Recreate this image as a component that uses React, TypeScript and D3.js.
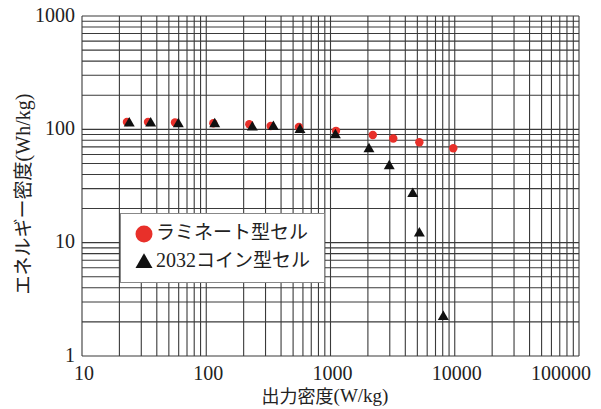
import React, { useRef, useEffect } from 'react';
import * as d3 from 'd3';

const width = 601;
const height = 409;
const margin = { left: 82, right: 22, top: 16, bottom: 53 };

// ラミネート型セル
const laminateX = [23, 34, 56, 114, 222, 330, 557, 1107, 2190, 3200, 5190, 9730];
const laminateY = [116, 116, 115, 113, 111, 107, 105, 97, 89, 83, 77, 68];
// 2032コイン型セル
const coinX = [24, 35.7, 59.6, 117, 235, 347, 568, 1095, 2040, 2970, 4590, 5190, 8090];
const coinY = [113, 113, 111, 111, 104, 105, 99, 89, 67, 47.5, 27, 12.1, 2.22];

const xTicks = [10, 100, 1000, 10000, 100000];
const yTicks = [1, 10, 100, 1000];
// each label split into [text, isLatin] runs
const legendLabels: [string, boolean][][] = [
  [['ラミネート型セル', false]],
  [['2032', true], ['コイン型セル', false]],
];
const xTitle: [string, boolean][] = [['出力密度', false], ['(W/kg)', true]];
const yTitle: [string, boolean][] = [['エネルギー密度', false], ['(Wh/kg)', true]];

const serif = "'Liberation Serif'";
const cjk = "'Noto Sans CJK JP'";
const red = '#e8302a';

export default function App() {
  const svgRef = useRef<SVGSVGElement>(null);

  useEffect(() => {
    document.body.style.margin = '0';
    const svg = d3.select(svgRef.current);
    svg.selectAll('*').remove();

    const x = d3.scaleLog().domain([10, 100000]).range([margin.left, width - margin.right]);
    const y = d3.scaleLog().domain([1, 1000]).range([height - margin.bottom, margin.top]);

    const xGrid: number[] = [];
    for (let e = 1; e < 5; e++) for (let m = 1; m < 10; m++) xGrid.push(m * Math.pow(10, e));
    xGrid.push(100000);
    const yGrid: number[] = [];
    for (let e = 0; e < 3; e++) for (let m = 1; m < 10; m++) yGrid.push(m * Math.pow(10, e));
    yGrid.push(1000);

    const g = svg.append('g');
    g.append('g')
      .selectAll('line')
      .data(xGrid)
      .join('line')
      .attr('x1', d => x(d))
      .attr('x2', d => x(d))
      .attr('y1', y(1))
      .attr('y2', y(1000))
      .attr('stroke', '#3a3a3a')
      .attr('stroke-width', 1.1);
    g.append('g')
      .selectAll('line')
      .data(yGrid)
      .join('line')
      .attr('y1', d => y(d))
      .attr('y2', d => y(d))
      .attr('x1', x(10))
      .attr('x2', x(100000))
      .attr('stroke', '#3a3a3a')
      .attr('stroke-width', 1.1);

    // tick labels
    g.append('g')
      .selectAll('text')
      .data(xTicks)
      .join('text')
      .style('font-family', serif)
      .attr('font-size', 20)
      .attr('fill', '#222')
      .attr('x', (d, i) => (i === xTicks.length - 1 ? 591 : x(d) + 2))
      .attr('y', 375)
      .attr('dominant-baseline', 'middle')
      .attr('text-anchor', (d, i) => (i === xTicks.length - 1 ? 'end' : 'middle'))
      .text(d => String(d));
    g.append('g')
      .selectAll('text')
      .data(yTicks)
      .join('text')
      .style('font-family', serif)
      .attr('font-size', 20)
      .attr('fill', '#222')
      .attr('x', 75)
      .attr('y', d => y(d) + 1)
      .attr('dominant-baseline', 'middle')
      .attr('text-anchor', 'end')
      .text(d => String(d));

    const runs = (sel: any, parts: [string, boolean][], size: number) => {
      parts.forEach(([t, latin]) => {
        sel.append('tspan')
          .style('font-family', latin ? serif : cjk)
          .attr('font-size', latin ? size + 1 : size)
          .text(t);
      });
    };

    // axis titles
    const xt = svg.append('text')
      .attr('x', 325)
      .attr('y', 398)
      .attr('dominant-baseline', 'middle')
      .attr('text-anchor', 'middle')
      .attr('fill', '#222');
    runs(xt, xTitle, 18);
    const yt = svg.append('text')
      .attr('transform', 'translate(25,194) rotate(-90)')
      .attr('dominant-baseline', 'middle')
      .attr('text-anchor', 'middle')
      .attr('fill', '#222');
    runs(yt, yTitle, 19);

    // data
    g.append('g')
      .selectAll('circle')
      .data(laminateX)
      .join('circle')
      .attr('cx', d => x(d))
      .attr('cy', (d, i) => y(laminateY[i]))
      .attr('r', 4.2)
      .attr('fill', red);
    const tri = d3.symbol().type(d3.symbolTriangle).size(52);
    g.append('g')
      .selectAll('path')
      .data(coinX)
      .join('path')
      .attr('transform', (d, i) => `translate(${x(d)},${y(coinY[i])})`)
      .attr('d', tri())
      .attr('fill', '#111');

    // legend
    const lg = svg.append('g');
    lg.append('rect')
      .attr('x', 120.5)
      .attr('y', 213.5)
      .attr('width', 204)
      .attr('height', 69)
      .attr('fill', '#fff')
      .attr('stroke', '#888')
      .attr('stroke-width', 1);
    lg.append('circle').attr('cx', 144).attr('cy', 234).attr('r', 8.5).attr('fill', red);
    lg.append('path')
      .attr('transform', 'translate(144,263)')
      .attr('d', d3.symbol().type(d3.symbolTriangle).size(125)())
      .attr('fill', '#111');
    legendLabels.forEach((parts, i) => {
      const t = lg.append('text')
        .attr('x', 156)
        .attr('y', 234 + i * 28)
        .attr('dominant-baseline', 'middle')
        .attr('fill', '#222');
      runs(t, parts, 19);
    });
  }, []);

  return <svg ref={svgRef} width={width} height={height} style={{ display: 'block' }} />;
}
